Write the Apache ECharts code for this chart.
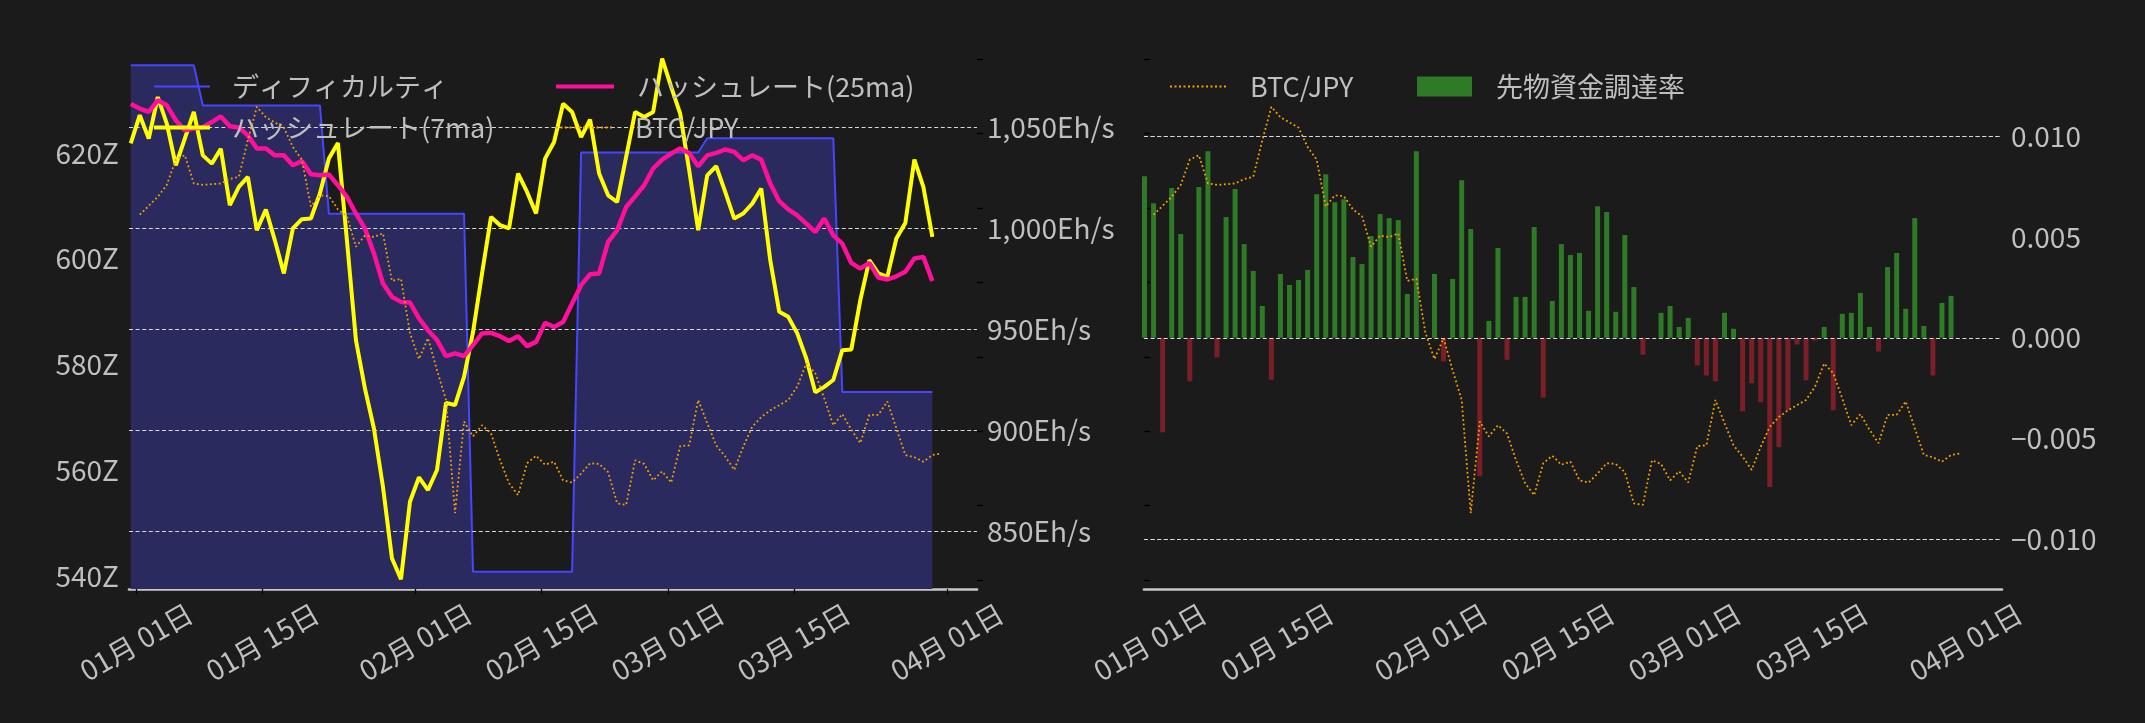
<!DOCTYPE html>
<html>
<head>
<meta charset="utf-8">
<script src="https://cdn.jsdelivr.net/npm/echarts@6/dist/echarts.min.js"></script>
<style>
html,body{margin:0;padding:0;background:#1b1b1b;}
#c{width:2145px;height:723px;}
</style>
</head>
<body>
<div id="c"></div>
<script>
// ---------- data ----------
// day index 0 = 01月01日; each daily point sits at day + dayOffset
const dayOffset = 0.375;
const tickDays = [0, 14, 31, 45, 59, 73, 90];
const tickLabels = ['01月 01日', '01月 15日', '02月 01日', '02月 15日', '03月 01日', '03月 15日', '04月 01日'];

// difficulty (Z), days -1 .. 88
const difficultyStart = -1;
const difficulty = [
  636.6, 636.6, 636.6, 636.6, 636.6, 636.6, 636.6, 636.6,
  629.0, 629.0, 629.0, 629.0, 629.0, 629.0, 629.0, 629.0, 629.0, 629.0, 629.0, 629.0, 629.0, 629.0,
  608.5, 608.5, 608.5, 608.5, 608.5, 608.5, 608.5, 608.5, 608.5, 608.5, 608.5, 608.5, 608.5, 608.5, 608.5, 608.5,
  540.8, 540.8, 540.8, 540.8, 540.8, 540.8, 540.8, 540.8, 540.8, 540.8, 540.8, 540.8,
  620.1, 620.1, 620.1, 620.1, 620.1, 620.1, 620.1, 620.1, 620.1, 620.1, 620.1, 620.1, 620.1, 620.1,
  622.8, 622.8, 622.8, 622.8, 622.8, 622.8, 622.8, 622.8, 622.8, 622.8, 622.8, 622.8, 622.8, 622.8, 622.8,
  574.8, 574.8, 574.8, 574.8, 574.8, 574.8, 574.8, 574.8, 574.8, 574.8, 574.8
];

// hashrate 7-day MA (Eh/s), days -1 .. 88
const hash7Start = -1;
const hashrate7ma = [
  1042, 1056, 1044.4, 1065, 1051.8, 1031.2, 1044.4, 1057.6, 1036.1, 1032,
  1039.4, 1011.4, 1020.5, 1025.4, 999, 1009.3, 994, 977.6, 999.9, 1004.5,
  1004.8, 1017.2, 1034.5, 1042.2, 994, 944.6, 920.6, 900.8, 871.9, 836.5,
  826.1, 864.5, 876.6, 870.3, 880.2, 913.5, 912.4, 926.4, 948.5, 977.6,
  1005.6, 1001.5, 999.9, 1027.1, 1018, 1007.3, 1034.5, 1042.7, 1061.7, 1057.6,
  1045.2, 1053.8, 1027.1, 1016.3, 1013, 1035.3, 1057.6, 1055.1, 1057.6, 1084,
  1070, 1056.8, 1028.7, 999, 1026.2, 1030.7, 1018, 1004.8, 1007.3, 1012.2,
  1019.7, 984.2, 958.6, 956.1, 947.9, 935.5, 918.7, 921.4, 924.8, 939.6,
  939.9, 964.4, 984.2, 977.6, 975.9, 994.9, 1002.6, 1034, 1020.5, 995.7
];

// hashrate 25-day MA (Eh/s), days -1 .. 88
const hash25Start = -1;
const hashrate25ma = [
  1061.5, 1059.3, 1057.6, 1063.4, 1060.9, 1053.5, 1048.5, 1049.4, 1050.1, 1052.6,
  1055.4, 1050.5, 1049.9, 1046, 1039.5, 1039.5, 1036.1, 1036.1, 1031.2, 1033.3,
  1026.7, 1026.2, 1026.6, 1021.3, 1015.5, 1007.3, 999.9, 987.5, 972.6, 966,
  963.5, 963.2, 955.3, 949.5, 944.6, 936.6, 938, 936.6, 942.1, 947.9,
  948.2, 946.5, 944.1, 946.5, 941.6, 943.7, 953.1, 951.1, 953.5, 962.7,
  971.8, 977.2, 977.6, 993.2, 999, 1010.5, 1015.8, 1021.3, 1029.6, 1034,
  1037, 1039.5, 1037.3, 1030.7, 1036.1, 1037.3, 1039, 1037.8, 1033.7, 1036.1,
  1034, 1022.1, 1013.4, 1009.3, 1006.4, 1002.3, 998.2, 1004.8, 996.5, 992.4,
  982.8, 980, 982.8, 975.6, 974.6, 976.2, 978.4, 985, 985.8, 973.9
];

// BTC/JPY, days 0 .. 89
const btcStart = 0;
const btcJpy = [
  14910000, 15030000, 15150000, 15310000, 15650000, 15710000, 15330000, 15310000, 15320000, 15330000,
  15390000, 15420000, 15910000, 16360000, 16220000, 16150000, 16080000, 15820000, 15650000, 15020000,
  15170000, 15160000, 14980000, 14890000, 14480000, 14630000, 14610000, 14660000, 14020000, 14050000,
  13320000, 12970000, 13250000, 12820000, 12420000, 10900000, 12130000, 11930000, 12080000, 11970000,
  11610000, 11300000, 11140000, 11570000, 11670000, 11550000, 11590000, 11340000, 11310000, 11430000,
  11570000, 11560000, 11450000, 11030000, 11010000, 11610000, 11560000, 11340000, 11460000, 11310000,
  11800000, 11810000, 12420000, 12110000, 11810000, 11660000, 11480000, 11790000, 12060000, 12190000,
  12280000, 12350000, 12420000, 12600000, 12910000, 12780000, 12440000, 12080000, 12230000, 12020000,
  11840000, 12220000, 12220000, 12400000, 12040000, 11680000, 11650000, 11590000, 11680000, 11700000
];

// futures funding rate, days -1 .. 88
const fundingStart = -1;
const fundingRate = [
  0.00802, 0.00668, -0.00469, 0.00743, 0.00515, -0.00216, 0.00748, 0.00926, -0.00097, 0.00599,
  0.00738, 0.00465, 0.00332, 0.00158, -0.00208, 0.00317, 0.00262, 0.00287, 0.00337, 0.00713,
  0.00812, 0.00673, 0.00688, 0.00401, 0.00366, 0.00505, 0.00614, 0.00594, 0.00584, 0.00218,
  0.00926, 0, 0.00317, -0.00117, 0.00292, 0.00782, 0.0054, -0.00687, 0.00084, 0.00446,
  -0.00109, 0.00203, 0.00203, 0.0055, -0.00297, 0.00183, 0.00465, 0.00411, 0.00421, 0.00134,
  0.00653, 0.00624, 0.00129, 0.0051, 0.00252, -0.00084, 0, 0.00124, 0.00158, 0.00054,
  0.00099, -0.00137, -0.00187, -0.00216, 0.00124, 0.00045, -0.00365, -0.00226, -0.0032, -0.00741,
  -0.00543, -0.0036, -0.00033, -0.00211, -0.00013, 0.00054, -0.0036, 0.00119, 0.00124, 0.00223,
  0.00054, -0.00068, 0.00351, 0.00421, 0.00144, 0.00594, 0.00059, -0.00187, 0.00173, 0.00208
];

// axis tick values
const diffTicks = [540, 560, 580, 600, 620];
const hashTicks = [850, 900, 950, 1000, 1050];
const btcTicks = [10000000, 11000000, 12000000, 13000000, 14000000, 15000000, 16000000, 17000000];
const fundTicks = [-0.01, -0.005, 0, 0.005, 0.01];

// ---------- styling ----------
const BG = '#1b1b1b';
const TXT = '#bfbfbf';
const FONT = '"Noto Sans CJK JP", "Noto Sans", sans-serif';
const C_DIFF = '#4646ff', C_DIFF_FILL = '#2a2a5e';
const C_H7 = '#ffff00', C_H25 = '#ff0f9a', C_BTC = '#f5a000';
const C_POS = '#2f7a26', C_NEG = '#7a1f27';
const GRID_LINE = {color: '#d8d8d8', width: 1.2, type: [4, 2.6]};
const DOT_ICON = 'path://M0,0h2v2h-2zM4.5,0h2v2h-2zM9,0h2v2h-2zM13.5,0h2v2h-2zM18,0h2v2h-2zM22.5,0h2v2h-2zM27,0h2v2h-2zM31.5,0h2v2h-2zM36,0h2v2h-2zM40.5,0h2v2h-2zM45,0h2v2h-2zM49.5,0h2v2h-2zM54,0h2v2h-2z';

const toXY = (start, arr) => arr.map((v, i) => [start + i + dayOffset, v]);

function xAxisFor(gridIndex, min, max, showTicks) {
  return {
    type: 'value', gridIndex, min, max,
    axisLine: {show: true, onZero: false, lineStyle: {color: '#c8c8c8', width: 2.6}},
    axisTick: {show: showTicks, customValues: tickDays, length: 5, lineStyle: {color: '#000', width: 1.3}},
    axisLabel: {
      show: true, customValues: tickDays, rotate: 30, align: 'center', verticalAlign: 'middle',
      margin: 53, color: TXT, fontSize: 28, fontFamily: FONT,
      formatter: v => { const i = tickDays.indexOf(Math.round(v)); return i >= 0 ? tickLabels[i] : ''; }
    },
    splitLine: {show: false}
  };
}

function btcAxis(gridIndex, position) {
  return {
    type: 'value', gridIndex, position, min: 9879000, max: 17124000,
    axisLine: {show: false}, splitLine: {show: false}, axisLabel: {show: false},
    axisTick: {show: true, customValues: btcTicks, length: 6, lineStyle: {color: '#000', width: 1.3}}
  };
}

function legendOne(name, left, top, icon, w, h, pad, color) {
  return {
    show: true, left, top, padding: 0, itemWidth: w, itemHeight: h, icon,
    selectedMode: false,
    itemStyle: {color, borderWidth: 0},
    data: [name],
    textStyle: {color: TXT, fontSize: 27, fontFamily: FONT, padding: [0, 0, 0, pad]}
  };
}

const fundingData = fundingRate.map((v, i) => ({
  value: [fundingStart + i + dayOffset, v],
  itemStyle: {color: v >= 0 ? C_POS : C_NEG}
}));

const option = {
  backgroundColor: BG,
  animation: false,
  textStyle: {fontFamily: FONT},
  grid: [
    {left: 129, right: 1168, top: 50, bottom: 134, outerBoundsMode: 'none', containLabel: false},
    {left: 1144, right: 143, top: 50, bottom: 134, outerBoundsMode: 'none', containLabel: false}
  ],
  legend: [
    legendOne('ディフィカルティ', 154, 73, 'rect', 56, 2, 17, C_DIFF),
    legendOne('ハッシュレート(7ma)', 154, 114, 'rect', 56, 4, 17, C_H7),
    legendOne('ハッシュレート(25ma)', 556, 73, 'rect', 58, 4, 18, C_H25),
    legendOne('BTC/JPY', 556, 114, DOT_ICON, 56, 2, 18, C_BTC),
    legendOne('BTC/JPY', 1170, 73, DOT_ICON, 56, 2, 19, C_BTC),
    legendOne('先物資金調達率', 1417, 73, 'rect', 55, 20, 19, C_POS)
  ],
  xAxis: [
    xAxisFor(0, -0.82, 93.33, true),
    xAxisFor(1, -0.68, 94.0, false)
  ],
  yAxis: [
    {
      type: 'value', gridIndex: 0, position: 'left', min: 537.54, max: 639.48,
      axisLine: {show: false}, splitLine: {show: false},
      axisTick: {show: true, customValues: diffTicks, length: 5, lineStyle: {color: '#000', width: 1.3}},
      axisLabel: {customValues: diffTicks, formatter: v => v + 'Z', margin: 10, color: TXT, fontSize: 28, fontFamily: FONT}
    },
    {
      type: 'value', gridIndex: 0, position: 'right', min: 821.27, max: 1088.3,
      axisLine: {show: false}, splitLine: {show: false}, axisTick: {show: false},
      axisLabel: {customValues: hashTicks, formatter: v => v.toLocaleString('en-US') + 'Eh/s', margin: 10, color: TXT, fontSize: 28, fontFamily: FONT}
    },
    btcAxis(0, 'right'),
    btcAxis(1, 'left'),
    {
      type: 'value', gridIndex: 1, position: 'right', min: -0.012466, max: 0.014283,
      axisLine: {show: false}, splitLine: {show: false}, axisTick: {show: false},
      axisLabel: {customValues: fundTicks, formatter: v => (v < 0 ? '\u2212' : '') + Math.abs(v).toFixed(3), margin: 9, color: TXT, fontSize: 28, fontFamily: FONT}
    }
  ],
  series: [
    {
      name: 'ディフィカルティ', type: 'line', xAxisIndex: 0, yAxisIndex: 0, z: 1, silent: true,
      data: toXY(difficultyStart, difficulty), symbol: 'none', showSymbol: false,
      color: C_DIFF, lineStyle: {color: C_DIFF, width: 2},
      areaStyle: {color: C_DIFF_FILL, opacity: 1, origin: 'start'}
    },
    {
      name: 'ハッシュレート(7ma)', type: 'line', xAxisIndex: 0, yAxisIndex: 1, z: 3, silent: true,
      data: toXY(hash7Start, hashrate7ma), symbol: 'none', showSymbol: false,
      color: C_H7, lineStyle: {color: C_H7, width: 4},
      markLine: {silent: true, z: 2, symbol: 'none', label: {show: false}, animation: false,
        lineStyle: GRID_LINE, data: hashTicks.map(v => ({yAxis: v}))}
    },
    {
      name: 'ハッシュレート(25ma)', type: 'line', xAxisIndex: 0, yAxisIndex: 1, z: 3, silent: true,
      data: toXY(hash25Start, hashrate25ma), symbol: 'none', showSymbol: false,
      color: C_H25, lineStyle: {color: C_H25, width: 4.5}
    },
    {
      name: 'BTC/JPY', type: 'line', xAxisIndex: 0, yAxisIndex: 2, z: 4, silent: true,
      data: toXY(btcStart, btcJpy), symbol: 'none', showSymbol: false,
      color: C_BTC, lineStyle: {color: C_BTC, width: 1.8, type: [1.8, 2.6]}
    },
    {
      name: '先物資金調達率', type: 'bar', xAxisIndex: 1, yAxisIndex: 4, z: 1, silent: true,
      data: fundingData, barWidth: 5, color: C_POS, itemStyle: {color: C_POS},
      markLine: {silent: true, z: 2, symbol: 'none', label: {show: false}, animation: false,
        lineStyle: GRID_LINE, data: fundTicks.map(v => ({yAxis: v}))}
    },
    {
      name: 'BTC/JPY', type: 'line', xAxisIndex: 1, yAxisIndex: 3, z: 4, silent: true,
      data: toXY(btcStart, btcJpy), symbol: 'none', showSymbol: false,
      color: C_BTC, lineStyle: {color: C_BTC, width: 1.8, type: [1.8, 2.6]}
    }
  ]
};

const chart = echarts.init(document.getElementById('c'), null, {renderer: 'canvas', width: 2145, height: 723});
chart.setOption(option);
</script>
</body>
</html>
